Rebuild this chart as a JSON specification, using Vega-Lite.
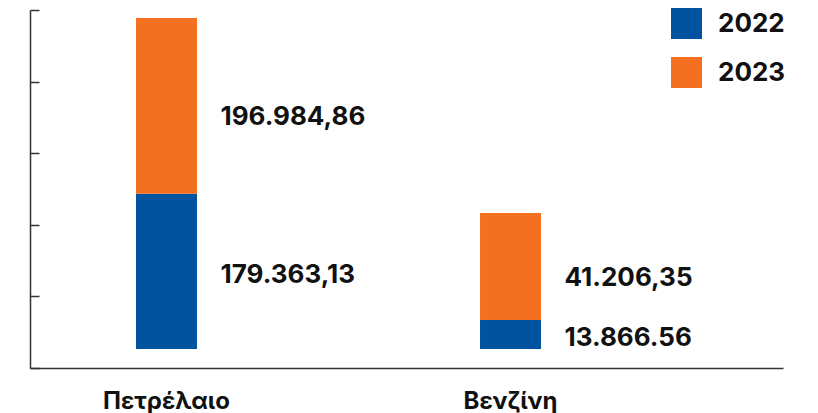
{
  "$schema": "https://vega.github.io/schema/vega-lite/v6.json",
  "width": 753,
  "height": 358,
  "autosize": {"type": "none"},
  "padding": {"left": 30, "top": 10, "right": 35, "bottom": 45},
  "background": "white",
  "config": {
    "view": {"stroke": null},
    "font": "Inter"
  },
  "data": {
    "values": [
      {"fuel": "Πετρέλαιο", "year": "2022", "lo": 13300, "hi": 121700, "label": "179.363,13"},
      {"fuel": "Πετρέλαιο", "year": "2023", "lo": 121700, "hi": 244400, "label": "196.984,86"},
      {"fuel": "Βενζίνη", "year": "2022", "lo": 13300, "hi": 33500, "label": "13.866.56"},
      {"fuel": "Βενζίνη", "year": "2023", "lo": 33500, "hi": 108200, "label": "41.206,35"}
    ]
  },
  "transform": [{"calculate": "(datum.lo + datum.hi) / 2", "as": "mid"}],
  "encoding": {
    "x": {
      "field": "fuel",
      "type": "nominal",
      "sort": ["Πετρέλαιο", "Βενζίνη"],
      "scale": {"paddingInner": 0.8227, "paddingOuter": 0.5058, "align": 0.3046},
      "axis": {
        "title": null,
        "ticks": false,
        "labelAngle": 0,
        "labelFont": "Inter",
        "labelFontWeight": "bold",
        "labelFontSize": 24,
        "labelColor": "#111111",
        "labelPadding": 21,
        "domainColor": "#333333",
        "domainWidth": 1.5
      }
    }
  },
  "layer": [
    {
      "mark": {"type": "bar"},
      "encoding": {
        "y": {
          "field": "lo",
          "type": "quantitative",
          "scale": {"domain": [0, 250000], "nice": false, "zero": true},
          "axis": {
            "title": null,
            "labels": false,
            "grid": false,
            "values": [0, 50000, 100000, 150000, 200000, 250000],
            "tickSize": -9,
            "tickColor": "#333333",
            "tickWidth": 1.5,
            "domainColor": "#333333",
            "domainWidth": 1.5
          }
        },
        "y2": {"field": "hi"},
        "color": {
          "field": "year",
          "type": "nominal",
          "scale": {"domain": ["2022", "2023"], "range": ["#00539F", "#F37021"]},
          "legend": {
            "title": null,
            "orient": "none",
            "legendX": 641,
            "legendY": -2,
            "symbolType": "square",
            "symbolSize": 961,
            "symbolStrokeWidth": 0,
            "symbolOpacity": 1,
            "labelFont": "Inter",
            "labelFontWeight": "bold",
            "labelFontSize": 26,
            "labelColor": "#111111",
            "labelOffset": 16,
            "rowPadding": 18
          }
        }
      }
    },
    {
      "transform": [{"filter": "datum.year === '2023'"}],
      "mark": {"type": "text", "align": "left", "baseline": "middle", "dx": 54, "dy": 11, "font": "Inter", "fontWeight": "bold", "fontSize": 26, "color": "#111111"},
      "encoding": {
        "y": {"field": "mid", "type": "quantitative"},
        "text": {"field": "label"}
      }
    },
    {
      "transform": [{"filter": "datum.year === '2022'"}],
      "mark": {"type": "text", "align": "left", "baseline": "middle", "dx": 54, "dy": 4, "font": "Inter", "fontWeight": "bold", "fontSize": 26, "color": "#111111"},
      "encoding": {
        "y": {"field": "mid", "type": "quantitative"},
        "text": {"field": "label"}
      }
    }
  ]
}
